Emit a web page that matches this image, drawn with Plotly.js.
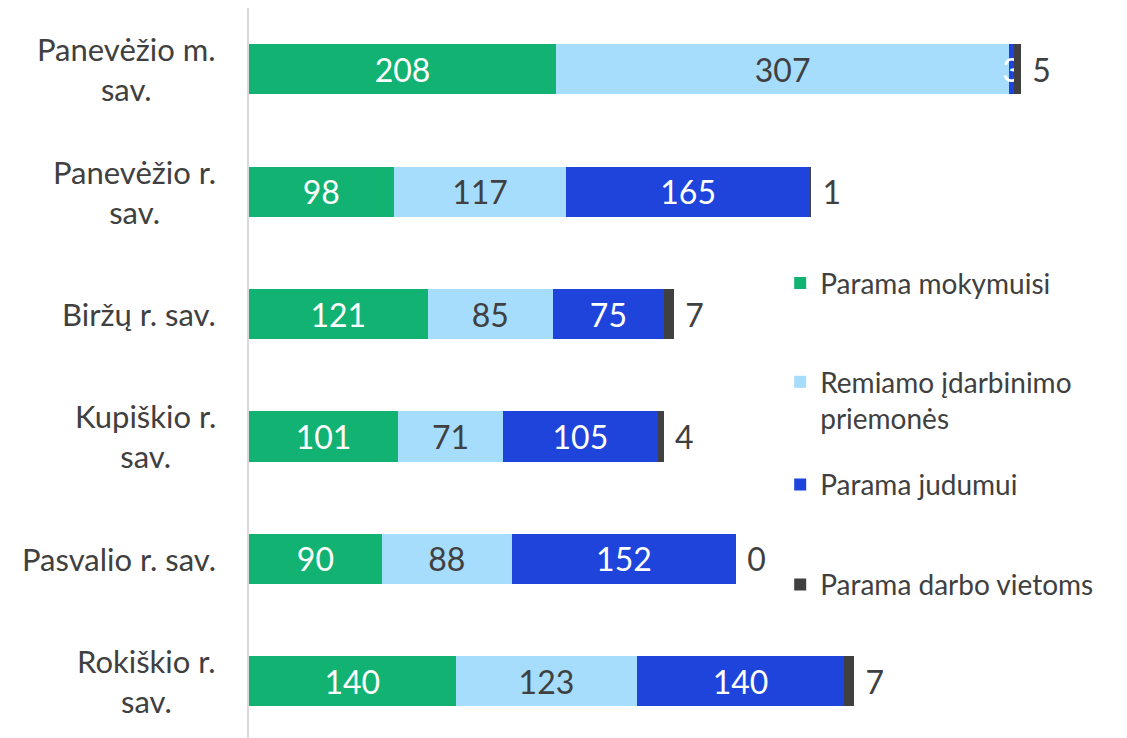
<!DOCTYPE html>
<html>
<head>
<meta charset="utf-8">
<script src="https://cdn.plot.ly/plotly-3.0.1.min.js"></script>
<style>
  html, body { margin: 0; padding: 0; background: #fff; }
  #chart { width: 1127px; height: 738px; }
</style>
</head>
<body>
<div id="chart"></div>
<script>
// municipalities, top to bottom
var categories = ['Panevėžio m. sav.', 'Panevėžio r. sav.', 'Biržų r. sav.', 'Kupiškio r. sav.', 'Pasvalio r. sav.', 'Rokiškio r. sav.'];
var catLabels = ['Panevėžio m.<br>sav.', 'Panevėžio r.<br>sav.', 'Biržų r. sav.', 'Kupiškio r.<br>sav.', 'Pasvalio r. sav.', 'Rokiškio r.<br>sav.'];

var seriesNames = ['Parama mokymuisi', 'Remiamo įdarbinimo<br>priemonės', 'Parama judumui', 'Parama darbo vietoms'];
var mokymuisi = [208, 98, 121, 101, 90, 140];
var idarbinimo = [307, 117, 85, 71, 88, 123];
var judumui = [3, 165, 75, 105, 152, 140];
var darboVietoms = [5, 1, 7, 4, 0, 7];

var colors = ['#12B273', '#A6DDFD', '#1E44DC', '#404040'];
var textColors = ['#ffffff', '#404040', '#ffffff', '#404040'];
var font = 'Lato, "Open Sans", sans-serif';

// each series has its own legend box so the spacing can follow the original
var legendIds = ['legend', 'legend2', 'legend3', 'legend4'];
var legendY = [0.623, 0.463, 0.347, 0.21];

var values = [mokymuisi, idarbinimo, judumui, darboVietoms];
var traces = [];
for (var i = 0; i < values.length; i++) {
  traces.push({
    type: 'bar',
    orientation: 'h',
    name: seriesNames[i],
    legend: legendIds[i],
    y: categories,
    x: values[i],
    text: values[i].map(String),
    texttemplate: i == 3 ? ' %{text}' : '%{text}',
    textposition: i == 3 ? 'outside' : 'inside',
    insidetextanchor: 'middle',
    textangle: 0,
    constraintext: 'none',
    cliponaxis: false,
    textfont: { family: font, size: 32, color: textColors[i] },
    marker: { color: colors[i], line: { width: 0 } },
    hoverinfo: 'x+name'
  });
}

var annotations = categories.map(function (c, k) {
  return {
    xref: 'paper', yref: 'y',
    x: 0, y: c,
    xanchor: 'right', yanchor: 'middle',
    xshift: -31,
    align: 'center',
    showarrow: false,
    text: catLabels[k],
    font: { family: font, size: 31, color: '#404040' }
  };
});

var layout = {
  width: 1127,
  height: 738,
  margin: { l: 249, r: 0, t: 8, b: 0 },
  paper_bgcolor: '#ffffff',
  plot_bgcolor: '#ffffff',
  barmode: 'stack',
  bargap: 0.59,
  showlegend: true,
  xaxis: {
    range: [0, 594.8],
    showgrid: false,
    zeroline: false,
    showticklabels: false,
    showline: false,
    fixedrange: true
  },
  yaxis: {
    type: 'category',
    range: [5.464, -0.5],
    showgrid: false,
    zeroline: false,
    showticklabels: false,
    showline: true,
    linecolor: '#d9d9d9',
    linewidth: 2,
    ticks: '',
    fixedrange: true
  },
  annotations: annotations
};

for (var j = 0; j < legendIds.length; j++) {
  layout[legendIds[j]] = {
    x: 0.605, xanchor: 'left',
    y: legendY[j], yanchor: 'middle',
    valign: 'top',
    font: { family: font, size: 28, color: '#404040' },
    bgcolor: 'rgba(0,0,0,0)'
  };
}

Plotly.newPlot('chart', traces, layout, { displayModeBar: false, staticPlot: true });
</script>
</body>
</html>
